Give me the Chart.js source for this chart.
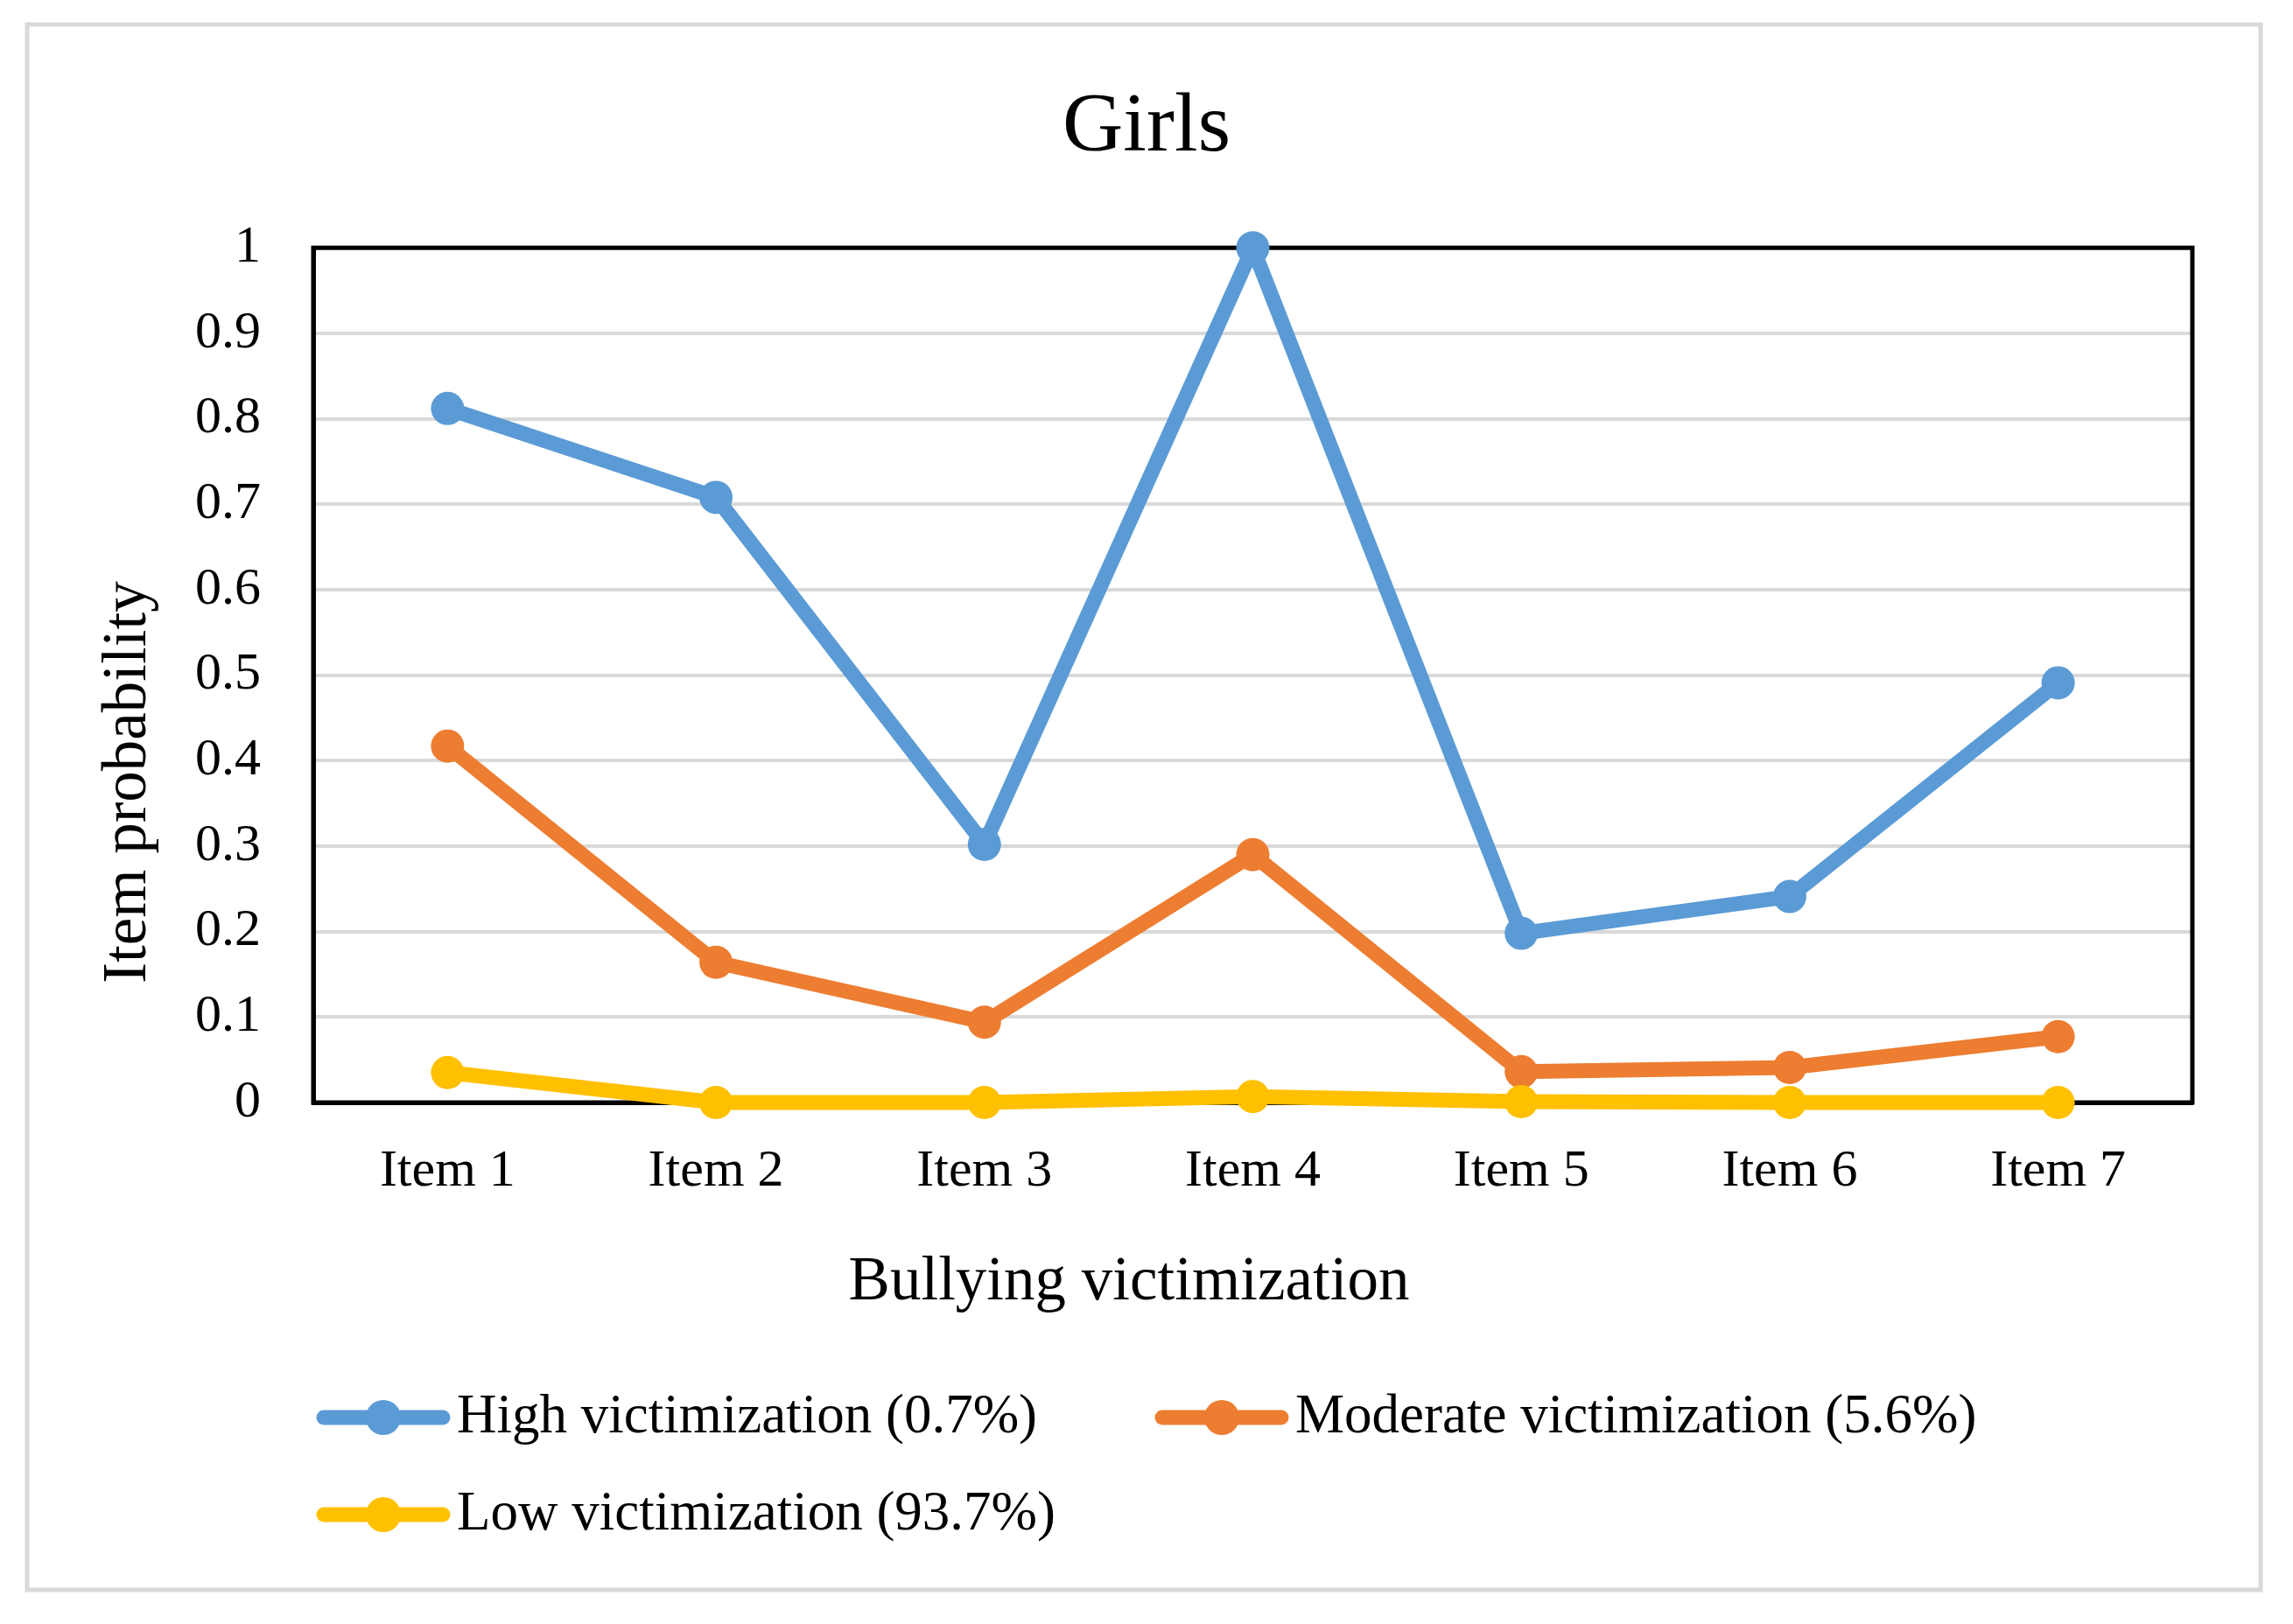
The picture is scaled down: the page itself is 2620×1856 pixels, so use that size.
<!DOCTYPE html>
<html>
<head>
<meta charset="utf-8">
<title>Girls</title>
<script src="https://cdn.jsdelivr.net/npm/chart.js@4.4.1/dist/chart.umd.min.js"></script>
<style>
    html, body { margin: 0; padding: 0; background: #fff; }
    #wrap { width: 2620px; height: 1856px; position: relative; }
</style>
</head>
<body>
<div id="wrap"><canvas id="girlsChart"></canvas></div>
<script>
// Data
const items = ['Item 1', 'Item 2', 'Item 3', 'Item 4', 'Item 5', 'Item 6', 'Item 7'];
const seriesNames = ['High victimization (0.7%)', 'Moderate victimization (5.6%)', 'Low victimization (93.7%)'];
const highValues = [0.812, 0.708, 0.302, 1.0, 0.198, 0.241, 0.491];
const moderateValues = [0.417, 0.164, 0.094, 0.290, 0.036, 0.041, 0.077];
const lowValues = [0.035, 0.000, 0.000, 0.007, 0.001, 0.000, 0.000];
const seriesColors = ['#5B9BD5', '#ED7D31', '#FFC000'];

const FONT = '"Liberation Serif", "Times New Roman", serif';

document.addEventListener('DOMContentLoaded', function() {
    const ctx = document.getElementById('girlsChart');

    // Frame around the whole figure + box around the plot area
    const framePlugin = {
        id: 'frame',
        beforeDraw(chart) {
            const c = chart.ctx;
            c.save();
            c.fillStyle = '#fff';
            c.fillRect(0, 0, chart.width, chart.height);
            c.strokeStyle = '#D9D9D9';
            c.lineWidth = 5;
            c.strokeRect(31, 28, 2552, 1789);
            c.restore();
        },
        beforeDatasetsDraw(chart) {
            const a = chart.chartArea;
            const c = chart.ctx;
            c.save();
            c.strokeStyle = '#000';
            c.lineWidth = 5;
            c.strokeRect(a.left, a.top, a.right - a.left, a.bottom - a.top);
            c.restore();
        }
    };

    // Axis titles (placed like the original, not centred on the plot) and legend
    const extrasPlugin = {
        id: 'extras',
        afterDraw(chart) {
            const c = chart.ctx;
            c.save();
            c.fillStyle = '#000';
            c.font = '71px ' + FONT;
            c.textAlign = 'center';
            c.textBaseline = 'middle';
            c.fillText('Bullying victimization', 1290, 1466);

            c.save();
            c.translate(147, 894);
            c.rotate(-Math.PI / 2);
            c.fillText('Item probability', 0, 0);
            c.restore();

            // legend
            const spots = [[362, 1620], [1320, 1620], [362, 1731]];
            c.font = '63px ' + FONT;
            c.textAlign = 'left';
            chart.data.datasets.forEach(function(ds, i) {
                const [x, y] = spots[i];
                c.strokeStyle = ds.borderColor;
                c.lineWidth = 17;
                c.lineCap = 'round';
                c.beginPath();
                c.moveTo(x + 8, y);
                c.lineTo(x + 144, y);
                c.stroke();
                c.fillStyle = ds.borderColor;
                c.beginPath();
                c.arc(x + 76, y, 20, 0, Math.PI * 2);
                c.fill();
                c.fillStyle = '#000';
                c.fillText(ds.label, x + 160, y);
            });
            c.restore();
        }
    };

    const valueSets = [highValues, moderateValues, lowValues];
    const datasets = valueSets.map(function(vals, i) {
        return {
            label: seriesNames[i],
            data: vals,
            borderColor: seriesColors[i],
            backgroundColor: seriesColors[i],
            pointBackgroundColor: seriesColors[i],
            pointBorderWidth: 0,
            pointRadius: 19,
            pointHoverRadius: 19,
            borderWidth: 17,
            borderJoinStyle: 'round',
            tension: 0,
            clip: false,
            order: 3 - i
        };
    });

    new Chart(ctx, {
        type: 'line',
        data: { labels: items, datasets: datasets },
        options: {
            responsive: true,
            maintainAspectRatio: false,
            devicePixelRatio: 1,
            animation: false,
            layout: { padding: 0 },
            plugins: {
                legend: { display: false },
                tooltip: { enabled: false },
                title: {
                    display: true,
                    text: 'Girls',
                    color: '#000',
                    font: { family: FONT, size: 96, weight: 'normal' },
                    padding: { top: 89, bottom: 79 }
                }
            },
            scales: {
                x: {
                    offset: true,
                    grid: { display: false, drawTicks: false },
                    border: { display: true, color: '#000', width: 5 },
                    ticks: {
                        color: '#000',
                        padding: 43,
                        font: { family: FONT, size: 60 },
                        maxRotation: 0,
                        autoSkip: false
                    },
                    afterFit: function(scale) { scale.height = 596; }
                },
                y: {
                    min: 0,
                    max: 1,
                    grid: { color: '#D9D9D9', lineWidth: 4, drawTicks: false },
                    border: { display: true, color: '#000', width: 5 },
                    ticks: {
                        stepSize: 0.1,
                        color: '#000',
                        padding: 60,
                        font: { family: FONT, size: 60 },
                        callback: function(v) { return String(+v.toFixed(1)); }
                    },
                    afterFit: function(scale) { scale.width = 358; }
                },
                yRight: {
                    position: 'right',
                    display: true,
                    grid: { display: false },
                    border: { display: false },
                    ticks: { display: false },
                    afterFit: function(scale) { scale.width = 115; }
                }
            }
        },
        plugins: [framePlugin, extrasPlugin]
    });
});
</script>
</body>
</html>
